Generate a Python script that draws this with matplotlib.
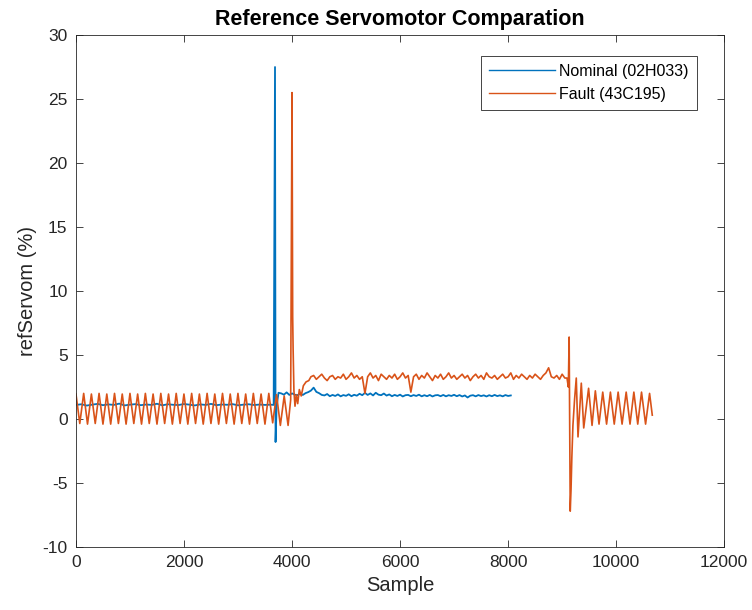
import matplotlib
matplotlib.use('Agg')
from matplotlib import pyplot as plt
import numpy as np

# Nominal (02H033): readings every 100 samples before the spike
nominal_pre = [1.10, 1.15, 1.05, 1.12, 1.18, 1.08, 1.14, 1.10, 1.20, 1.06,
               1.12, 1.16, 1.08, 1.13, 1.10, 1.19, 1.07, 1.15, 1.11, 1.09,
               1.17, 1.12, 1.06, 1.14, 1.10, 1.18, 1.08, 1.13, 1.11, 1.16,
               1.07, 1.12, 1.15, 1.09, 1.13, 1.10, 1.12]
# spike around sample 3690
nominal_jump_x = [3660, 3685, 3695, 3715, 3750]
nominal_jump_y = [1.10, 27.5, -1.8, 1.0, 2.05]
# readings every 50 samples from 3800 to 8050
nominal_post = [2.00, 1.90, 2.08, 1.88, 2.00, 1.90, 1.86, 1.98, 1.88, 2.02,
                2.10, 2.22, 2.45, 2.12, 2.02, 1.88, 1.84, 1.95, 1.78, 1.88,
                1.80, 1.92, 1.77, 1.87, 1.81, 1.93, 1.78, 1.89, 1.82, 1.97,
                1.86, 2.04, 1.88, 2.00, 1.84, 2.05, 1.90, 1.86, 1.99, 1.83,
                1.92, 1.78, 1.88, 1.80, 1.90, 1.76, 1.86, 1.88, 1.78, 1.87,
                1.80, 1.90, 1.77, 1.86, 1.78, 1.88, 1.76, 1.85, 1.87, 1.78,
                1.88, 1.77, 1.86, 1.80, 1.89, 1.78, 1.87, 1.76, 1.84, 1.68,
                1.82, 1.86, 1.77, 1.87, 1.79, 1.85, 1.76, 1.86, 1.78, 1.88,
                1.79, 1.85, 1.77, 1.87, 1.80, 1.84]

# Fault (43C195): peaks/troughs of the oscillation before the fault
fault_osc_x = [0, 71, 143, 214, 286, 357, 428, 500, 571, 643, 714, 786, 857, 928,
               1000, 1071, 1142, 1214, 1285, 1357, 1428, 1500, 1571, 1642, 1714,
               1785, 1856, 1928, 1999, 2071, 2142, 2214, 2285, 2356, 2428, 2499,
               2570, 2642, 2713, 2785, 2856, 2928, 2999, 3070, 3142, 3213, 3284,
               3356, 3427, 3499, 3570, 3642, 3713, 3784, 3855, 3927]
fault_osc_y = [1.95, -0.35, 2.00, -0.40, 1.95, -0.35, 2.00, -0.40, 1.95, -0.40,
               2.00, -0.35, 1.95, -0.40, 2.00, -0.35, 1.95, -0.40, 2.00, -0.35,
               1.95, -0.40, 2.00, -0.35, 1.95, -0.40, 2.00, -0.35, 1.95, -0.40,
               2.00, -0.35, 1.95, -0.40, 2.00, -0.35, 1.95, -0.40, 2.00, -0.35,
               1.95, -0.40, 2.00, -0.35, 1.95, -0.40, 2.00, -0.35, 1.95, -0.40,
               2.00, -0.30, 1.90, -0.50, 1.80, -0.50]
# fault spike and settling
fault_jump_x = [3975, 4000, 4012, 4020, 4035, 4055, 4080, 4105, 4135, 4170,
                4210, 4260, 4310, 4350]
fault_jump_y = [1.5, 25.5, 8.0, 5.5, 2.2, 1.0, 1.9, 1.2, 2.3, 1.8,
                2.6, 2.9, 3.0, 3.3]
# readings every 50 samples from 4400 to 9050
fault_plateau = [3.4, 3.1, 3.3, 3.5, 3.2, 3.0, 3.3, 3.4, 3.1, 3.3,
                 3.2, 3.5, 3.1, 3.3, 3.6, 3.2, 3.4, 3.1, 3.3, 2.0,
                 3.3, 3.6, 3.2, 3.4, 3.0, 3.5, 3.3, 3.1, 3.4, 3.2,
                 3.5, 3.1, 3.3, 3.6, 3.2, 3.4, 2.1, 3.3, 3.5, 3.1,
                 3.4, 3.2, 3.6, 3.3, 3.0, 3.4, 3.2, 3.5, 3.1, 3.3,
                 3.6, 3.2, 3.4, 3.1, 3.3, 3.5, 3.2, 3.4, 3.0, 3.3,
                 3.5, 3.2, 3.4, 3.1, 3.6, 3.3, 3.2, 3.4, 3.1, 3.3,
                 3.5, 3.2, 3.3, 3.6, 3.1, 3.4, 3.2, 3.5, 3.3, 3.1,
                 3.4, 3.2, 3.5, 3.3, 3.1, 3.4, 3.6, 4.0, 3.3, 3.2,
                 3.4, 3.1, 3.5, 3.2]
# second disturbance and damped oscillation
fault_tail_x = [9090, 9115, 9130, 9150, 9165, 9180, 9200, 9230, 9262, 9294,
                9355, 9400, 9490, 9554, 9615, 9683, 9752, 9823, 9894, 9965,
                10037, 10110, 10186, 10257, 10328, 10400, 10470, 10545, 10619, 10669]
fault_tail_y = [3.2, 2.5, 6.4, -7.2, -5.5, -3.0, -0.5, 1.5, 3.2, -1.4,
                2.8, -0.7, 2.4, -0.5, 2.2, -0.4, 2.1, -0.4, 2.1, -0.4,
                2.1, -0.4, 2.1, -0.4, 2.1, -0.4, 2.1, -0.4, 2.0, 0.3]

nominal_x = (list(np.arange(0, 3700, 100)) + nominal_jump_x
             + list(np.arange(3800, 8051, 50)))
nominal_y = nominal_pre + nominal_jump_y + nominal_post
fault_x = fault_osc_x + fault_jump_x + list(np.arange(4400, 9051, 50)) + fault_tail_x
fault_y = fault_osc_y + fault_jump_y + fault_plateau + fault_tail_y

plt.rcParams['font.family'] = ['Liberation Sans', 'DejaVu Sans']
plt.rcParams['axes.unicode_minus'] = False
axis_color = '#262626'

fig = plt.figure(figsize=(7.52, 6.10), dpi=100)
ax = fig.add_axes([0.101, 0.1033, 0.862, 0.8393])
ax.plot(nominal_x, nominal_y, color='#0072BD', lw=1.3, label='Nominal (02H033)')
ax.plot(fault_x, fault_y, color='#D95319', lw=1.2, label='Fault (43C195)')

ax.set_xlim(0, 12000)
ax.set_ylim(-10, 30)
ax.set_xticks(range(0, 12001, 2000))
ax.set_yticks(range(-10, 31, 5))
ax.tick_params(direction='in', top=True, right=True, length=5, width=0.6,
               colors=axis_color, labelsize=12.5, pad=6)
for sp in ax.spines.values():
    sp.set_color(axis_color)
    sp.set_linewidth(0.6)

ax.set_xlabel('Sample', fontsize=14.5, color=axis_color)
ax.set_ylabel('refServom (%)', fontsize=14.5, color=axis_color)
ax.set_title('Reference Servomotor Comparation', fontsize=15.5, fontweight='bold', pad=7)

leg = ax.legend(loc='upper right', bbox_to_anchor=(0.958, 0.959), borderaxespad=0,
                fontsize=11.5, handlelength=4.1, handletextpad=0.3, fancybox=False,
                framealpha=1, borderpad=0.5, labelspacing=0.5)
for line in leg.get_lines():
    line.set_linewidth(1.0)
leg.get_frame().set_edgecolor(axis_color)
leg.get_frame().set_linewidth(0.6)

plt.savefig('out.png', dpi=100)
